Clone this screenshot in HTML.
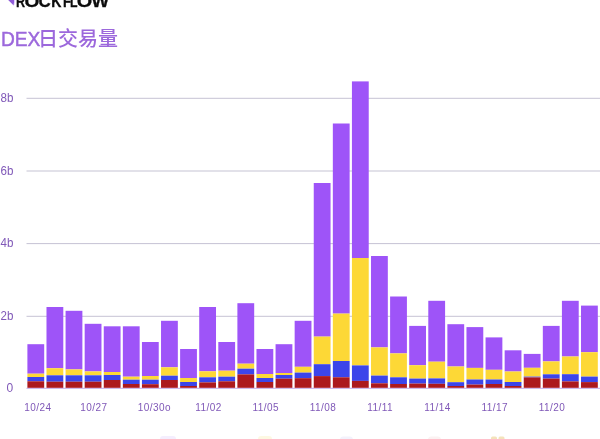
<!DOCTYPE html>
<html lang="zh"><head><meta charset="utf-8"><title>DEX日交易量</title>
<style>
html,body{margin:0;padding:0;background:#fff;}
body{width:600px;height:439px;overflow:hidden;position:relative;font-family:"Liberation Sans","Noto Sans CJK SC",sans-serif;}
svg{position:absolute;left:0;top:0;display:block;}
.ax{font-family:"Liberation Sans","Noto Sans CJK SC",sans-serif;font-size:10px;fill:#8059b8;letter-spacing:0.45px;}
.ay{font-family:"Liberation Sans","Noto Sans CJK SC",sans-serif;font-size:12px;fill:#8059b8;}
.ttl{font-family:"Liberation Sans","Noto Sans CJK SC",sans-serif;font-size:20px;font-weight:500;fill:#9c68dc;}
.ttl .lat{stroke:#9c68dc;stroke-width:0.45px;}
.logo{font-family:"Liberation Sans",sans-serif;font-weight:700;font-size:17.4px;fill:#0c0c0c;stroke:#0c0c0c;stroke-width:0.3px;}
</style></head><body>
<svg width="600" height="439" viewBox="0 0 600 439">
<rect width="600" height="439" fill="#ffffff"/>
<path d="M8.2 0 L14.3 0 L13.7 5.5 Z" fill="#8f5cd8"/><path d="M14.3 0 L15.3 0 L14.5 4.4 L13.7 5.5 Z" fill="#e2ccff"/>
<text class="logo" y="7.1"><tspan x="16.06" textLength="9.10" lengthAdjust="spacingAndGlyphs">R</tspan><tspan x="24.41" textLength="14.89" lengthAdjust="spacingAndGlyphs">O</tspan><tspan x="38.50" textLength="12.26" lengthAdjust="spacingAndGlyphs">C</tspan><tspan x="51.26" textLength="10.17" lengthAdjust="spacingAndGlyphs">K</tspan><tspan x="63.02" textLength="8.07" lengthAdjust="spacingAndGlyphs">F</tspan><tspan x="70.08" textLength="7.50" lengthAdjust="spacingAndGlyphs">L</tspan><tspan x="76.89" textLength="15.45" lengthAdjust="spacingAndGlyphs">O</tspan><tspan x="91.48" textLength="17.54" lengthAdjust="spacingAndGlyphs">W</tspan></text>
<text class="ttl" x="1" y="46.2"><tspan class="lat" textLength="39.4" lengthAdjust="spacingAndGlyphs">DEX</tspan><tspan x="38.1">日交易量</tspan></text>
<rect x="26.5" y="97.8" width="573.5" height="1" fill="#c6c3d4"/>
<rect x="26.5" y="170.5" width="573.5" height="1" fill="#c6c3d4"/>
<rect x="26.5" y="243.1" width="573.5" height="1" fill="#c6c3d4"/>
<rect x="26.5" y="315.8" width="573.5" height="1" fill="#c6c3d4"/>
<rect x="26.5" y="387.8" width="573.5" height="1" fill="#c3a8e8"/>
<text class="ay" x="0.6" y="101.9" textLength="12.9" lengthAdjust="spacingAndGlyphs">8b</text>
<text class="ay" x="0.6" y="174.6" textLength="12.9" lengthAdjust="spacingAndGlyphs">6b</text>
<text class="ay" x="0.6" y="247.2" textLength="12.9" lengthAdjust="spacingAndGlyphs">4b</text>
<text class="ay" x="0.6" y="319.9" textLength="12.9" lengthAdjust="spacingAndGlyphs">2b</text>
<text class="ay" x="6.6" y="391.7">0</text>
<g transform="translate(27.40 0)"><rect y="344.2" width="16.8" height="29.5" fill="#9e54f8"/><rect y="373.7" width="16.8" height="3.3" fill="#fdd836"/><rect y="377.0" width="16.8" height="4.3" fill="#3c45ea"/><rect y="381.3" width="16.8" height="6.5" fill="#ac191d"/></g>
<g transform="translate(46.49 0)"><rect y="307.0" width="16.8" height="61.2" fill="#9e54f8"/><rect y="368.2" width="16.8" height="7.1" fill="#fdd836"/><rect y="375.3" width="16.8" height="6.4" fill="#3c45ea"/><rect y="381.7" width="16.8" height="6.1" fill="#ac191d"/></g>
<g transform="translate(65.58 0)"><rect y="310.8" width="16.8" height="58.6" fill="#9e54f8"/><rect y="369.4" width="16.8" height="5.9" fill="#fdd836"/><rect y="375.3" width="16.8" height="6.4" fill="#3c45ea"/><rect y="381.7" width="16.8" height="6.1" fill="#ac191d"/></g>
<g transform="translate(84.67 0)"><rect y="323.8" width="16.8" height="47.6" fill="#9e54f8"/><rect y="371.4" width="16.8" height="3.9" fill="#fdd836"/><rect y="375.3" width="16.8" height="6.4" fill="#3c45ea"/><rect y="381.7" width="16.8" height="6.1" fill="#ac191d"/></g>
<g transform="translate(103.76 0)"><rect y="326.3" width="16.8" height="45.7" fill="#9e54f8"/><rect y="372.0" width="16.8" height="3.0" fill="#fdd836"/><rect y="375.0" width="16.8" height="5.0" fill="#3c45ea"/><rect y="380.0" width="16.8" height="7.8" fill="#ac191d"/></g>
<g transform="translate(122.85 0)"><rect y="326.3" width="16.8" height="50.4" fill="#9e54f8"/><rect y="376.7" width="16.8" height="3.0" fill="#fdd836"/><rect y="379.7" width="16.8" height="4.3" fill="#3c45ea"/><rect y="384.0" width="16.8" height="3.8" fill="#ac191d"/></g>
<g transform="translate(141.94 0)"><rect y="342.0" width="16.8" height="34.0" fill="#9e54f8"/><rect y="376.0" width="16.8" height="3.7" fill="#fdd836"/><rect y="379.7" width="16.8" height="4.5" fill="#3c45ea"/><rect y="384.2" width="16.8" height="3.6" fill="#ac191d"/></g>
<g transform="translate(161.03 0)"><rect y="320.8" width="16.8" height="46.5" fill="#9e54f8"/><rect y="367.3" width="16.8" height="8.4" fill="#fdd836"/><rect y="375.7" width="16.8" height="4.3" fill="#3c45ea"/><rect y="380.0" width="16.8" height="7.8" fill="#ac191d"/></g>
<g transform="translate(180.12 0)"><rect y="349.0" width="16.8" height="29.0" fill="#9e54f8"/><rect y="378.0" width="16.8" height="4.0" fill="#fdd836"/><rect y="382.0" width="16.8" height="4.0" fill="#3c45ea"/><rect y="386.0" width="16.8" height="1.8" fill="#ac191d"/></g>
<g transform="translate(199.21 0)"><rect y="307.0" width="16.8" height="64.3" fill="#9e54f8"/><rect y="371.3" width="16.8" height="6.0" fill="#fdd836"/><rect y="377.3" width="16.8" height="5.1" fill="#3c45ea"/><rect y="382.4" width="16.8" height="5.4" fill="#ac191d"/></g>
<g transform="translate(218.30 0)"><rect y="342.0" width="16.8" height="28.7" fill="#9e54f8"/><rect y="370.7" width="16.8" height="6.0" fill="#fdd836"/><rect y="376.7" width="16.8" height="4.6" fill="#3c45ea"/><rect y="381.3" width="16.8" height="6.5" fill="#ac191d"/></g>
<g transform="translate(237.39 0)"><rect y="303.2" width="16.8" height="60.5" fill="#9e54f8"/><rect y="363.7" width="16.8" height="5.0" fill="#fdd836"/><rect y="368.7" width="16.8" height="5.7" fill="#3c45ea"/><rect y="374.4" width="16.8" height="13.4" fill="#ac191d"/></g>
<g transform="translate(256.48 0)"><rect y="349.0" width="16.8" height="25.0" fill="#9e54f8"/><rect y="374.0" width="16.8" height="4.0" fill="#fdd836"/><rect y="378.0" width="16.8" height="4.0" fill="#3c45ea"/><rect y="382.0" width="16.8" height="5.8" fill="#ac191d"/></g>
<g transform="translate(275.57 0)"><rect y="344.2" width="16.8" height="28.8" fill="#9e54f8"/><rect y="373.0" width="16.8" height="2.0" fill="#fdd836"/><rect y="375.0" width="16.8" height="3.7" fill="#3c45ea"/><rect y="378.7" width="16.8" height="9.1" fill="#ac191d"/></g>
<g transform="translate(294.66 0)"><rect y="320.8" width="16.8" height="46.0" fill="#9e54f8"/><rect y="366.8" width="16.8" height="5.8" fill="#fdd836"/><rect y="372.6" width="16.8" height="5.6" fill="#3c45ea"/><rect y="378.2" width="16.8" height="9.6" fill="#ac191d"/></g>
<g transform="translate(313.75 0)"><rect y="183.0" width="16.8" height="153.6" fill="#9e54f8"/><rect y="336.6" width="16.8" height="27.6" fill="#fdd836"/><rect y="364.2" width="16.8" height="11.9" fill="#3c45ea"/><rect y="376.1" width="16.8" height="11.7" fill="#ac191d"/></g>
<g transform="translate(332.84 0)"><rect y="123.5" width="16.8" height="190.1" fill="#9e54f8"/><rect y="313.6" width="16.8" height="47.4" fill="#fdd836"/><rect y="361.0" width="16.8" height="16.3" fill="#3c45ea"/><rect y="377.3" width="16.8" height="10.5" fill="#ac191d"/></g>
<g transform="translate(351.93 0)"><rect y="81.4" width="16.8" height="176.6" fill="#9e54f8"/><rect y="258.0" width="16.8" height="107.4" fill="#fdd836"/><rect y="365.4" width="16.8" height="15.5" fill="#3c45ea"/><rect y="380.9" width="16.8" height="6.9" fill="#ac191d"/></g>
<g transform="translate(371.02 0)"><rect y="256.0" width="16.8" height="91.4" fill="#9e54f8"/><rect y="347.4" width="16.8" height="28.2" fill="#fdd836"/><rect y="375.6" width="16.8" height="7.7" fill="#3c45ea"/><rect y="383.3" width="16.8" height="4.5" fill="#ac191d"/></g>
<g transform="translate(390.11 0)"><rect y="296.5" width="16.8" height="56.9" fill="#9e54f8"/><rect y="353.4" width="16.8" height="23.9" fill="#fdd836"/><rect y="377.3" width="16.8" height="6.7" fill="#3c45ea"/><rect y="384.0" width="16.8" height="3.8" fill="#ac191d"/></g>
<g transform="translate(409.20 0)"><rect y="325.9" width="16.8" height="39.3" fill="#9e54f8"/><rect y="365.2" width="16.8" height="13.4" fill="#fdd836"/><rect y="378.6" width="16.8" height="5.0" fill="#3c45ea"/><rect y="383.6" width="16.8" height="4.2" fill="#ac191d"/></g>
<g transform="translate(428.29 0)"><rect y="300.8" width="16.8" height="60.9" fill="#9e54f8"/><rect y="361.7" width="16.8" height="16.7" fill="#fdd836"/><rect y="378.4" width="16.8" height="5.4" fill="#3c45ea"/><rect y="383.8" width="16.8" height="4.0" fill="#ac191d"/></g>
<g transform="translate(447.38 0)"><rect y="324.2" width="16.8" height="42.3" fill="#9e54f8"/><rect y="366.5" width="16.8" height="15.7" fill="#fdd836"/><rect y="382.2" width="16.8" height="3.8" fill="#3c45ea"/><rect y="386.0" width="16.8" height="1.8" fill="#ac191d"/></g>
<g transform="translate(466.47 0)"><rect y="327.1" width="16.8" height="40.8" fill="#9e54f8"/><rect y="367.9" width="16.8" height="11.6" fill="#fdd836"/><rect y="379.5" width="16.8" height="5.1" fill="#3c45ea"/><rect y="384.6" width="16.8" height="3.2" fill="#ac191d"/></g>
<g transform="translate(485.56 0)"><rect y="337.4" width="16.8" height="32.4" fill="#9e54f8"/><rect y="369.8" width="16.8" height="9.7" fill="#fdd836"/><rect y="379.5" width="16.8" height="4.5" fill="#3c45ea"/><rect y="384.0" width="16.8" height="3.8" fill="#ac191d"/></g>
<g transform="translate(504.65 0)"><rect y="350.3" width="16.8" height="21.2" fill="#9e54f8"/><rect y="371.5" width="16.8" height="10.5" fill="#fdd836"/><rect y="382.0" width="16.8" height="4.0" fill="#3c45ea"/><rect y="386.0" width="16.8" height="1.8" fill="#ac191d"/></g>
<g transform="translate(523.74 0)"><rect y="353.9" width="16.8" height="13.9" fill="#9e54f8"/><rect y="367.8" width="16.8" height="8.8" fill="#fdd836"/><rect y="376.6" width="16.8" height="0.8" fill="#3c45ea"/><rect y="377.4" width="16.8" height="10.4" fill="#ac191d"/></g>
<g transform="translate(542.83 0)"><rect y="325.9" width="16.8" height="35.5" fill="#9e54f8"/><rect y="361.4" width="16.8" height="12.9" fill="#fdd836"/><rect y="374.3" width="16.8" height="4.3" fill="#3c45ea"/><rect y="378.6" width="16.8" height="9.2" fill="#ac191d"/></g>
<g transform="translate(561.92 0)"><rect y="300.8" width="16.8" height="55.7" fill="#9e54f8"/><rect y="356.5" width="16.8" height="17.7" fill="#fdd836"/><rect y="374.2" width="16.8" height="7.2" fill="#3c45ea"/><rect y="381.4" width="16.8" height="6.4" fill="#ac191d"/></g>
<g transform="translate(581.01 0)"><rect y="305.6" width="16.8" height="46.6" fill="#9e54f8"/><rect y="352.2" width="16.8" height="24.4" fill="#fdd836"/><rect y="376.6" width="16.8" height="5.5" fill="#3c45ea"/><rect y="382.1" width="16.8" height="5.7" fill="#ac191d"/></g>
<text class="ax" x="37.8" y="410.9" text-anchor="middle">10/24</text>
<text class="ax" x="93.9" y="410.9" text-anchor="middle">10/27</text>
<text class="ax" x="137.7" y="410.9">10/30o</text>
<text class="ax" x="208.4" y="410.9" text-anchor="middle">11/02</text>
<text class="ax" x="265.7" y="410.9" text-anchor="middle">11/05</text>
<text class="ax" x="322.9" y="410.9" text-anchor="middle">11/08</text>
<text class="ax" x="380.2" y="410.9" text-anchor="middle">11/11</text>
<text class="ax" x="437.5" y="410.9" text-anchor="middle">11/14</text>
<text class="ax" x="494.8" y="410.9" text-anchor="middle">11/17</text>
<text class="ax" x="552.0" y="410.9" text-anchor="middle">11/20</text>
<g opacity="0.3"><rect x="160" y="436" width="16" height="6" rx="3" fill="#dcc6fb"/><rect x="258" y="436" width="14" height="6" rx="3" fill="#fbeaa0"/><rect x="340" y="436.5" width="13" height="6" rx="3" fill="#d9d6f6"/><rect x="428" y="436.5" width="13" height="6" rx="3" fill="#f3d6d6"/><rect x="491" y="436.6" width="6" height="5" rx="1.5" fill="#dba520"/><rect x="498.5" y="436.6" width="6" height="5" rx="1.5" fill="#dba520"/></g>
</svg>
</body></html>
